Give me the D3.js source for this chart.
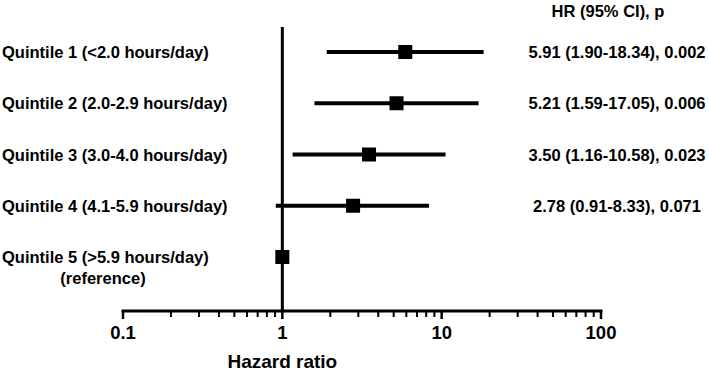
<!DOCTYPE html>
<html>
<head>
<meta charset="utf-8">
<script src="https://cdn.jsdelivr.net/npm/d3@7"></script>
<style>
  body { margin: 0; background: #fff; }
  svg text { font-family: "Liberation Sans", Arial, Helvetica, sans-serif; font-weight: bold; fill: #000; }
</style>
</head>
<body>
<div id="chart"></div>
<script>
// Forest plot: hazard ratio by quintile of daily hours

const labels = [
    "Quintile 1 (<2.0 hours/day)",
    "Quintile 2 (2.0-2.9 hours/day)",
    "Quintile 3 (3.0-4.0 hours/day)",
    "Quintile 4 (4.1-5.9 hours/day)",
    "Quintile 5 (>5.9 hours/day)"
];
const hr = [5.91, 5.21, 3.50, 2.78, 1];
const ciLow = [1.90, 1.59, 1.16, 0.91, null];
const ciHigh = [18.34, 17.05, 10.58, 8.33, null];
const summaries = [
    "5.91 (1.90-18.34), 0.002",
    "5.21 (1.59-17.05), 0.006",
    "3.50 (1.16-10.58), 0.023",
    "2.78 (0.91-8.33), 0.071",
    ""
];
const majorTicks = [0.1, 1, 10, 100];

const width = 709;
const height = 371;
const axisY = 311;

const data = labels.map((label, i) => ({
    label, hr: hr[i], lo: ciLow[i], hi: ciHigh[i], summary: summaries[i]
}));

const svg = d3.select("#chart")
    .append("svg")
    .attr("width", width)
    .attr("height", height)
    .attr("viewBox", [0, 0, width, height])
    .style("display", "block");

// Scales
const x = d3.scaleLog()
    .domain([0.1, 100])
    .range([123, 601]);

const y = d3.scalePoint()
    .domain(labels)
    .range([52, 257]);

// Minor ticks 2..9 for each decade
const minorTicks = x.ticks().filter(t => !majorTicks.includes(t));

// Axis
const axis = svg.append("g")
    .attr("transform", `translate(0,${axisY})`);

axis.append("line")
    .attr("x1", x(0.1) - 1.5)
    .attr("x2", x(100) + 1.5)
    .attr("stroke", "#000")
    .attr("stroke-width", 3);

axis.selectAll(".minor")
    .data(minorTicks)
    .join("line")
    .attr("class", "minor")
    .attr("x1", d => x(d))
    .attr("x2", d => x(d))
    .attr("y1", 0)
    .attr("y2", 6)
    .attr("stroke", "#000")
    .attr("stroke-width", 2);

axis.selectAll(".major")
    .data(majorTicks)
    .join("line")
    .attr("class", "major")
    .attr("x1", d => x(d))
    .attr("x2", d => x(d))
    .attr("y1", 0)
    .attr("y2", 8)
    .attr("stroke", "#000")
    .attr("stroke-width", 2.5);

axis.selectAll(".tick-label")
    .data(majorTicks)
    .join("text")
    .attr("class", "tick-label")
    .attr("x", d => x(d))
    .attr("y", 28)
    .attr("text-anchor", "middle")
    .attr("font-size", 18.5)
    .text(d => d3.format("~g")(d));

// Axis title
svg.append("text")
    .attr("x", x(1))
    .attr("y", 368)
    .attr("text-anchor", "middle")
    .attr("font-size", 19)
    .text("Hazard ratio");

// Reference line at HR = 1
svg.append("line")
    .attr("x1", x(1))
    .attr("x2", x(1))
    .attr("y1", 27)
    .attr("y2", axisY)
    .attr("stroke", "#000")
    .attr("stroke-width", 3);

// Confidence intervals
svg.append("g")
    .selectAll("line")
    .data(data.filter(d => d.lo != null))
    .join("line")
    .attr("x1", d => x(d.lo))
    .attr("x2", d => x(d.hi))
    .attr("y1", d => y(d.label))
    .attr("y2", d => y(d.label))
    .attr("stroke", "#000")
    .attr("stroke-width", 4);

// Point estimates
const sq = 14;
svg.append("g")
    .selectAll("rect")
    .data(data)
    .join("rect")
    .attr("x", d => x(d.hr) - sq / 2)
    .attr("y", d => y(d.label) - sq / 2)
    .attr("width", sq)
    .attr("height", sq)
    .attr("fill", "#000");

// Row labels
svg.append("g")
    .selectAll("text")
    .data(data)
    .join("text")
    .attr("x", 2)
    .attr("y", d => y(d.label) + 6)
    .attr("font-size", 16.5)
    .text(d => d.label);

svg.append("text")
    .attr("x", 103)
    .attr("y", y(labels[4]) + 27)
    .attr("text-anchor", "middle")
    .attr("font-size", 16.5)
    .text("(reference)");

// Right-hand column
svg.append("text")
    .attr("x", 608)
    .attr("y", 17)
    .attr("text-anchor", "middle")
    .attr("font-size", 16.5)
    .text("HR (95% CI), p");

svg.append("g")
    .selectAll("text")
    .data(data)
    .join("text")
    .attr("x", 617)
    .attr("y", d => y(d.label) + 6)
    .attr("text-anchor", "middle")
    .attr("font-size", 16.5)
    .text(d => d.summary);
</script>
</body>
</html>
